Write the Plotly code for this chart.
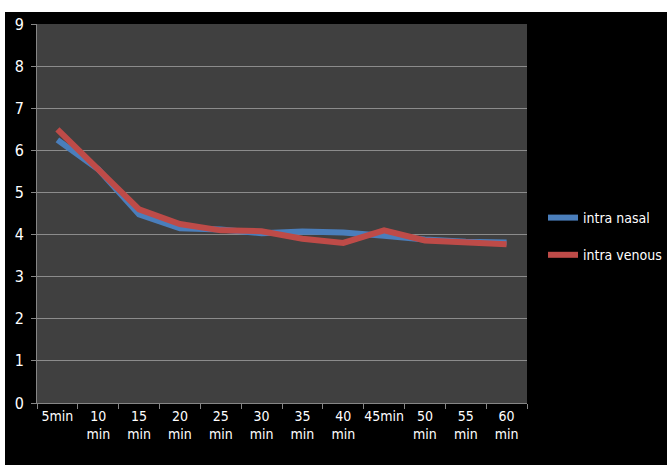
import plotly.graph_objects as go

categories = ["5min", "10<br>min", "15<br>min", "20<br>min", "25<br>min", "30<br>min",
              "35<br>min", "40<br>min", "45min", "50<br>min", "55<br>min", "60<br>min"]
intra_nasal = [6.25, 5.55, 4.48, 4.15, 4.12, 4.03, 4.07, 4.05, 3.97, 3.88, 3.83, 3.81]
intra_venous = [6.5, 5.55, 4.6, 4.25, 4.1, 4.08, 3.9, 3.8, 4.1, 3.86, 3.81, 3.77]
y_ticks = list(range(0, 10))

FONT = "Liberation Sans Narrow, DejaVu Sans Condensed, sans-serif"

W, H = 667, 465
L, R, T, B = 37, 140, 24, 62
PW, PH = W - L - R, H - T - B

fig = go.Figure()
fig.add_trace(go.Scatter(x=categories, y=intra_nasal, mode="lines", name="intra nasal",
                         legendgroup="a",
                         line=dict(color="#4A7EBB", width=6)))
fig.add_trace(go.Scatter(x=categories, y=intra_venous, mode="lines", name="intra venous",
                         legendgroup="b",
                         line=dict(color="#BE4B48", width=6)))

# white border strips at the top and left of the black canvas
fig.add_shape(type="rect", xref="paper", yref="paper",
              x0=-0.2, x1=1.4, y0=(PH + T - 12) / PH, y1=1.2,
              fillcolor="white", line=dict(width=0), layer="below")
fig.add_shape(type="rect", xref="paper", yref="paper",
              x0=-0.2, x1=(5 - L) / PW, y0=-0.3, y1=1.2,
              fillcolor="white", line=dict(width=0), layer="below")

fig.update_layout(
    width=W, height=H,
    margin=dict(l=L, r=R, t=T, b=B, autoexpand=False),
    paper_bgcolor="black",
    plot_bgcolor="#404040",
    font=dict(family=FONT, size=13, color="white"),
    showlegend=True,
    legend=dict(x=(543 - L) / PW, y=(H - B - 236.5) / PH, xanchor="left", yanchor="middle",
                bgcolor="rgba(0,0,0,0)", font=dict(size=14, color="white"),
                tracegroupgap=16, itemwidth=30),
    xaxis=dict(type="category", tickson="boundaries", ticks="outside", ticklen=5,
               tickcolor="#868686", showline=True, linecolor="#868686", linewidth=1,
               showgrid=False, tickfont=dict(size=14, color="white"), tickangle=0,
               ticklabelstandoff=0,
               range=[-0.5, 11.5], automargin=False),
    yaxis=dict(range=[0, 9], tickvals=y_ticks, ticks="outside", ticklen=5,
               tickcolor="#868686", showline=True, linecolor="#868686", linewidth=1,
               showgrid=True, gridcolor="#8C8C8C", gridwidth=1, zeroline=False,
               ticklabelstandoff=4, automargin=False,
               tickfont=dict(size=16, color="white")),
)

fig.write_html("out.html", config={"displayModeBar": False},
               post_script="document.body.style.margin='0';document.body.style.overflow='hidden';")
